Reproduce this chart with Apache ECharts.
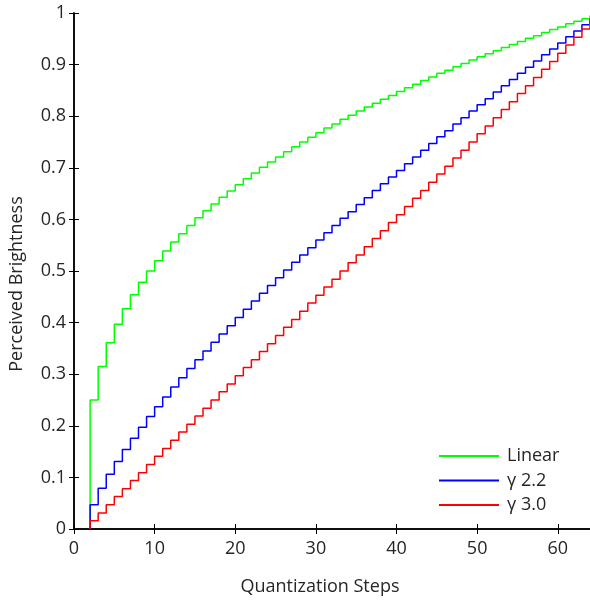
<!DOCTYPE html>
<html>
<head>
<meta charset="utf-8">
<script src="https://cdn.jsdelivr.net/npm/echarts@6/dist/echarts.min.js"></script>
<style>
  html, body { margin: 0; padding: 0; background: #fff; }
  #chart { width: 590px; height: 601px; }
</style>
</head>
<body>
<div id="chart"></div>
<script>
// Quantization step at which each level begins (levels 1..63)
const steps = [2, 3, 4, 5, 6, 7, 8, 9, 10, 11, 12, 13, 14, 15, 16, 17, 18, 19, 20, 21,
  22, 23, 24, 25, 26, 27, 28, 29, 30, 31, 32, 33, 34, 35, 36, 37, 38, 39, 40, 41,
  42, 43, 44, 45, 46, 47, 48, 49, 50, 51, 52, 53, 54, 55, 56, 57, 58, 59, 60, 61,
  62, 63, 64];

// Perceived brightness of each level
const linear = [0.250, 0.315, 0.361, 0.397, 0.427, 0.454, 0.478, 0.500, 0.520, 0.539,
  0.556, 0.572, 0.588, 0.603, 0.617, 0.630, 0.643, 0.655, 0.667, 0.679,
  0.690, 0.701, 0.711, 0.721, 0.731, 0.741, 0.750, 0.759, 0.768, 0.777,
  0.785, 0.794, 0.802, 0.810, 0.818, 0.825, 0.833, 0.840, 0.848, 0.855,
  0.862, 0.869, 0.876, 0.883, 0.889, 0.896, 0.902, 0.909, 0.915, 0.921,
  0.927, 0.933, 0.939, 0.945, 0.951, 0.956, 0.962, 0.968, 0.973, 0.979,
  0.984, 0.989, 0.995];

const gamma22 = [0.047, 0.079, 0.106, 0.131, 0.154, 0.176, 0.197, 0.218, 0.237, 0.256,
  0.275, 0.293, 0.311, 0.328, 0.345, 0.362, 0.378, 0.394, 0.410, 0.426,
  0.442, 0.457, 0.472, 0.487, 0.502, 0.517, 0.531, 0.545, 0.560, 0.574,
  0.588, 0.602, 0.615, 0.629, 0.642, 0.656, 0.669, 0.682, 0.695, 0.708,
  0.721, 0.734, 0.747, 0.760, 0.772, 0.785, 0.797, 0.810, 0.822, 0.834,
  0.847, 0.859, 0.871, 0.883, 0.895, 0.907, 0.919, 0.930, 0.942, 0.954,
  0.965, 0.977, 0.989];

const gamma30 = [0.016, 0.031, 0.047, 0.063, 0.078, 0.094, 0.109, 0.125, 0.141, 0.156,
  0.172, 0.188, 0.203, 0.219, 0.234, 0.250, 0.266, 0.281, 0.297, 0.313,
  0.328, 0.344, 0.359, 0.375, 0.391, 0.406, 0.422, 0.438, 0.453, 0.469,
  0.484, 0.500, 0.516, 0.531, 0.547, 0.563, 0.578, 0.594, 0.609, 0.625,
  0.641, 0.656, 0.672, 0.688, 0.703, 0.719, 0.734, 0.750, 0.766, 0.781,
  0.797, 0.813, 0.828, 0.844, 0.859, 0.875, 0.891, 0.906, 0.922, 0.938,
  0.953, 0.969, 0.984];

const seriesNames = ['Linear', 'γ 2.2', 'γ 3.0'];
const seriesColors = ['#00ff00', '#0000ff', '#ff0000'];
const seriesValues = [linear, gamma22, gamma30];

const xTicks = { min: 0, max: 64, interval: 10 };
const yTicks = { min: 0, max: 1, interval: 0.1 };

const FONT = '"Open Sans", "DejaVu Sans", sans-serif';
const TEXT = '#262626';
const SIZE = 18;

// Each curve rises from zero at the first step, then holds each level until the next step
function stairs(values) {
  return [[steps[0], 0]].concat(steps.map((s, i) => [s, values[i]]));
}

const axisLine = { show: true, lineStyle: { color: '#000', width: 1.5 } };
const axisTick = { show: true, inside: true, length: 5, lineStyle: { color: '#000', width: 1 } };

const chart = echarts.init(document.getElementById('chart'), null, { renderer: 'canvas' });
chart.setOption({
  animation: false,
  backgroundColor: '#fff',
  textStyle: { fontFamily: FONT },
  grid: { left: 74, top: 13, width: 517, bottom: 71, containLabel: false },
  legend: {
    orient: 'vertical',
    left: 439,
    top: 446,
    padding: 0,
    itemWidth: 60,
    itemHeight: 2,
    itemGap: 4.5,
    icon: 'rect',
    data: seriesNames,
    textStyle: { fontFamily: FONT, fontSize: SIZE, color: TEXT, lineHeight: 20, padding: [0, 0, 0, 3] }
  },
  xAxis: [{
    type: 'value',
    min: xTicks.min, max: xTicks.max, interval: xTicks.interval,
    axisLine, axisTick,
    splitLine: { show: false },
    axisLabel: { color: TEXT, fontSize: SIZE, fontFamily: FONT, margin: 11, showMaxLabel: false },
    name: 'Quantization Steps',
    nameLocation: 'middle',
    nameGap: 49,
    nameTextStyle: { color: TEXT, fontSize: SIZE, fontFamily: FONT, padding: [0, 24, 0, 0] }
  }, {
    type: 'value', position: 'top',
    min: xTicks.min, max: xTicks.max, interval: xTicks.interval,
    axisLine, axisTick,
    splitLine: { show: false },
    axisLabel: { show: false }
  }],
  yAxis: [{
    type: 'value',
    min: yTicks.min, max: yTicks.max, interval: yTicks.interval,
    axisLine, axisTick,
    splitLine: { show: false },
    axisLabel: { color: TEXT, fontSize: SIZE, fontFamily: FONT, margin: 8 },
    name: 'Perceived Brightness',
    nameLocation: 'middle',
    nameGap: 48,
    nameTextStyle: { color: TEXT, fontSize: SIZE, fontFamily: FONT, padding: [0, 26, 0, 0] }
  }, {
    type: 'value', position: 'right',
    min: yTicks.min, max: yTicks.max, interval: yTicks.interval,
    axisLine, axisTick,
    splitLine: { show: false },
    axisLabel: { show: false }
  }],
  series: seriesNames.map((name, i) => ({
    name,
    type: 'line',
    step: 'end',
    data: stairs(seriesValues[i]),
    symbol: 'none',
    color: seriesColors[i],
    lineStyle: { color: seriesColors[i], width: 1.5 }
  }))
});
</script>
</body>
</html>
